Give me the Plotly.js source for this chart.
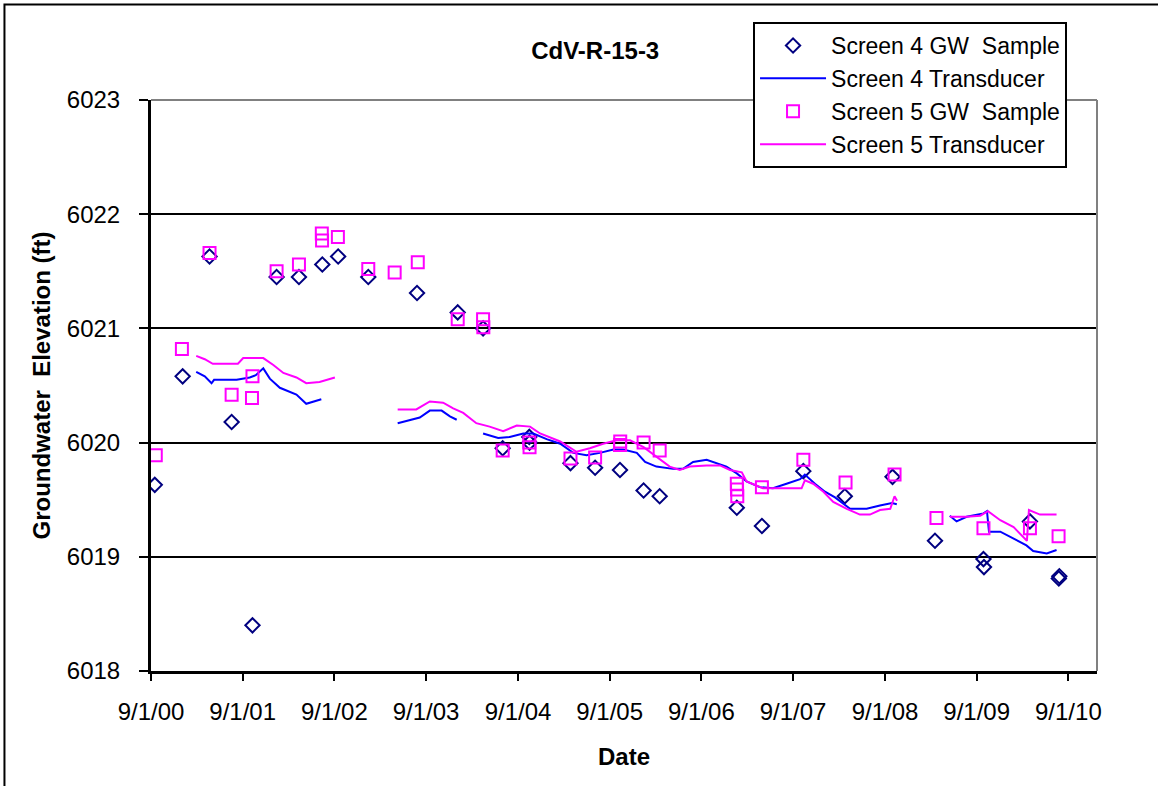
<!DOCTYPE html>
<html>
<head>
<meta charset="utf-8">
<script src="https://cdn.plot.ly/plotly-3.0.1.min.js"></script>
<style>html,body{margin:0;padding:0;background:#fff;}</style>
</head>
<body>
<div id="chart" style="width:1158px;height:786px;"></div>
<script>
// ---- Tick labels ----
const tickDates = ['2000-09-01','2001-09-01','2002-09-01','2003-09-01','2004-09-01','2005-09-01','2006-09-01','2007-09-01','2008-09-01','2009-09-01','2010-09-01'];
const tickLabels = ['9/1/00','9/1/01','9/1/02','9/1/03','9/1/04','9/1/05','9/1/06','9/1/07','9/1/08','9/1/09','9/1/10'];
const yTicks = [6018, 6019, 6020, 6021, 6022, 6023];

// ---- Screen 4 GW Sample ----
const s4SampleDates = ['2000-09-16','2001-01-05','2001-04-22','2001-07-19','2001-10-10','2002-01-14','2002-04-13','2002-07-15','2002-09-16','2003-01-14','2003-07-27','2004-01-05','2004-04-15','2004-07-02','2004-10-16','2004-10-17','2005-03-29','2005-07-05','2005-10-12','2006-01-14','2006-03-19','2007-01-20','2007-04-30','2007-10-12','2008-03-25','2008-10-01','2009-03-19','2009-09-28','2009-09-30','2010-04-01','2010-07-25','2010-07-27'];
const s4SampleValues = [6019.63,6020.58,6021.63,6020.18,6018.40,6021.45,6021.45,6021.56,6021.63,6021.45,6021.31,6021.14,6021.00,6019.95,6020.05,6020.00,6019.82,6019.78,6019.76,6019.58,6019.53,6019.43,6019.27,6019.75,6019.53,6019.70,6019.14,6018.98,6018.91,6019.31,6018.81,6018.83];

// ---- Screen 4 Transducer (null = data gap) ----
const s4TransDates = ['2001-02-28','2001-03-15','2001-04-03','2001-04-30','2001-05-10','2001-06-21','2001-08-08','2001-09-29','2001-10-23','2001-11-22','2001-12-18','2002-01-27','2002-04-03','2002-05-12','2002-06-10','2002-07-11',
  '2002-12-01',
  '2003-05-11','2003-06-28','2003-08-07','2003-09-16','2003-11-02','2003-12-05','2004-01-01',
  '2004-02-15',
  '2004-04-15','2004-06-14','2004-07-30','2004-09-22','2004-11-01','2004-12-24','2005-02-16','2005-04-09','2005-06-01','2005-07-24','2005-09-16','2005-10-25','2005-12-18','2006-01-20','2006-03-06','2006-05-11','2006-06-20','2006-07-30','2006-09-22','2006-10-18','2006-12-10','2007-01-20','2007-02-28','2007-04-21','2007-06-13','2007-08-06','2007-09-29','2007-10-18','2007-11-27','2008-01-06','2008-02-15','2008-04-15','2008-06-20','2008-08-12','2008-09-29','2008-10-18',
  '2009-01-01',
  '2009-05-17','2009-06-13','2009-07-23','2009-09-28','2009-10-12','2009-10-20','2009-12-04','2010-01-26','2010-03-18','2010-04-14','2010-06-07','2010-07-16'];
const s4TransValues = [6020.62,6020.60,6020.58,6020.52,6020.55,6020.55,6020.55,6020.57,6020.59,6020.65,6020.56,6020.48,6020.42,6020.34,6020.36,6020.38,
  null,
  6020.17,6020.20,6020.22,6020.28,6020.28,6020.23,6020.20,
  null,
  6020.08,6020.04,6020.05,6020.08,6020.08,6020.03,6019.99,6019.91,6019.89,6019.91,6019.94,6019.94,6019.91,6019.83,6019.79,6019.77,6019.77,6019.83,6019.85,6019.83,6019.79,6019.73,6019.66,6019.61,6019.60,6019.64,6019.68,6019.72,6019.64,6019.57,6019.52,6019.42,6019.42,6019.45,6019.47,6019.46,
  null,
  6019.36,6019.31,6019.35,6019.38,6019.40,6019.22,6019.22,6019.16,6019.10,6019.05,6019.03,6019.06];

// ---- Screen 5 GW Sample ----
const s5SampleDates = ['2000-09-20','2001-01-02','2001-04-22','2001-07-19','2001-10-08','2001-10-10','2002-01-14','2002-04-13','2002-07-13','2002-07-14','2002-09-15','2003-01-14','2003-04-29','2003-07-30','2004-01-05','2004-04-15','2004-04-16','2004-07-02','2004-10-16','2004-10-17','2005-03-29','2005-07-05','2005-10-12','2005-10-13','2006-01-14','2006-03-19','2007-01-20','2007-01-21','2007-01-22','2007-04-30','2007-10-12','2008-03-28','2008-10-09','2009-03-25','2009-09-28','2010-04-01','2010-07-24'];
const s5SampleValues = [6019.89,6020.82,6021.66,6020.42,6020.39,6020.58,6021.50,6021.56,6021.83,6021.77,6021.80,6021.52,6021.49,6021.58,6021.08,6021.08,6021.01,6019.93,6020.00,6019.96,6019.86,6019.87,6019.98,6020.01,6020.00,6019.93,6019.64,6019.59,6019.53,6019.61,6019.85,6019.65,6019.72,6019.34,6019.25,6019.25,6019.18];

// ---- Screen 5 Transducer (null = data gap) ----
const s5TransDates = ['2001-02-28','2001-04-03','2001-05-05','2001-08-13','2001-09-03','2001-11-22','2002-01-01','2002-02-10','2002-04-03','2002-05-12','2002-07-04','2002-09-03',
  '2002-12-01',
  '2003-05-11','2003-07-24','2003-09-16','2003-11-08','2003-12-18','2004-01-27','2004-03-19','2004-05-11','2004-07-04','2004-08-27','2004-10-19','2004-11-28','2005-02-16','2005-04-22','2005-06-14','2005-08-06','2005-09-29','2005-11-21','2006-01-14','2006-03-06','2006-04-28','2006-06-07','2006-07-17','2006-09-22','2006-11-14','2006-12-24','2007-02-09','2007-02-28','2007-05-04','2007-07-10','2007-10-05','2007-10-18','2007-11-20','2007-12-31','2008-02-08','2008-04-02','2008-05-24','2008-07-03','2008-08-12','2008-09-22','2008-10-09','2008-10-19',
  '2009-01-01',
  '2009-05-17','2009-07-23','2009-09-15','2009-10-16','2009-12-04','2010-01-26','2010-03-20','2010-03-28','2010-05-11','2010-07-16'];
const s5TransValues = [6020.76,6020.73,6020.69,6020.69,6020.74,6020.74,6020.68,6020.61,6020.57,6020.52,6020.53,6020.57,
  null,
  6020.29,6020.29,6020.36,6020.35,6020.30,6020.26,6020.17,6020.14,6020.10,6020.15,6020.14,6020.08,6020.01,6019.92,6019.95,6019.99,6020.02,6020.02,6019.96,6019.88,6019.79,6019.76,6019.79,6019.80,6019.80,6019.76,6019.74,6019.66,6019.60,6019.60,6019.60,6019.67,6019.64,6019.57,6019.48,6019.42,6019.37,6019.37,6019.41,6019.42,6019.53,6019.49,
  null,
  6019.35,6019.35,6019.36,6019.40,6019.32,6019.26,6019.14,6019.41,6019.37,6019.37];

const FONT = '"Liberation Sans", Arial, sans-serif';

const traces = [
  {name:'Screen 4 GW\u00a0 Sample', x:s4SampleDates, y:s4SampleValues, type:'scatter', mode:'markers',
   marker:{symbol:'diamond-open', size:11, color:'#000080', line:{width:2, color:'#000080'}}},
  {name:'Screen 4 Transducer', x:s4TransDates, y:s4TransValues, type:'scatter', mode:'lines',
   line:{color:'#0000FF', width:2}, connectgaps:false},
  {name:'Screen 5 GW\u00a0 Sample', x:s5SampleDates, y:s5SampleValues, type:'scatter', mode:'markers',
   marker:{symbol:'square-open', size:12, color:'#FF00FF', line:{width:2, color:'#FF00FF'}}},
  {name:'Screen 5 Transducer', x:s5TransDates, y:s5TransValues, type:'scatter', mode:'lines',
   line:{color:'#FF00FF', width:2}, connectgaps:false}
];

const layout = {
  width:1158, height:786,
  margin:{l:151, r:61, t:100, b:115, pad:0},
  paper_bgcolor:'#ffffff', plot_bgcolor:'#ffffff',
  font:{family:FONT, color:'#000', size:24},
  title:{text:'<b>CdV-R-15-3</b>', xref:'container', x:0.514, xanchor:'center', yref:'container', y:0.936, yanchor:'middle', font:{family:FONT, size:24, color:'#000'}},
  showlegend:true,
  legend:{x:0.6364, y:1.1366, xanchor:'left', yanchor:'top', bordercolor:'#000', borderwidth:2, bgcolor:'#fff',
          font:{family:FONT, size:23, color:'#000'}, itemwidth:66, tracegroupgap:0},
  xaxis:{type:'date', range:['2000-09-01','2010-12-24'], tickvals:tickDates, ticktext:tickLabels,
         ticks:'outside', ticklen:7, tickwidth:2, tickcolor:'#000',
         showline:true, linecolor:'#000', linewidth:3, showgrid:false, zeroline:false,
         tickfont:{family:FONT, size:24, color:'#000'}, ticklabelstandoff:10,
         title:{text:'<b>Date</b>', standoff:25, font:{family:FONT, size:24, color:'#000'}}},
  yaxis:{range:[6018,6023], tickvals:yTicks, ticks:'outside', ticklen:9, tickwidth:2, tickcolor:'#000',
         showline:true, linecolor:'#000', linewidth:3, showgrid:true, gridcolor:'#000', gridwidth:2, zeroline:false,
         tickfont:{family:FONT, size:24, color:'#000'}, ticklabelstandoff:14,
         title:{text:'<b>Groundwater  Elevation (ft)</b>', standoff:10, font:{family:FONT, size:24, color:'#000'}}},
  shapes:[
    {type:'line', xref:'paper', yref:'paper', x0:0, x1:1, y0:1, y1:1, line:{color:'#808080', width:2}, layer:'above'},
    {type:'line', xref:'paper', yref:'paper', x0:1, x1:1, y0:0, y1:1, line:{color:'#808080', width:2}, layer:'above'},
    {type:'rect', xref:'paper', yref:'paper', x0:-0.1549, x1:1.08, y0:-0.23, y1:1.1673, line:{color:'#000', width:2}, fillcolor:'rgba(0,0,0,0)', layer:'below'}
  ]
};

Plotly.newPlot('chart', traces, layout, {displayModeBar:false, staticPlot:true});
</script>
</body>
</html>
